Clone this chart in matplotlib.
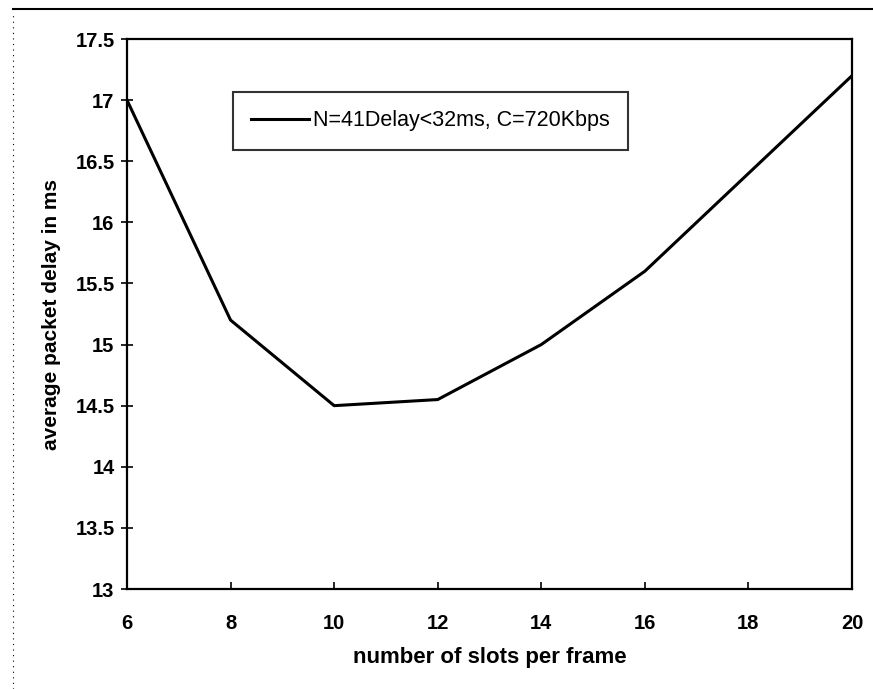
import matplotlib.pyplot as plt
import matplotlib as mpl
from matplotlib.lines import Line2D

mpl.rcParams['font.family'] = ['Liberation Sans', 'DejaVu Sans']

slots = [6, 8, 10, 12, 14, 16, 18, 20]
delay = [17.0, 15.2, 14.5, 14.55, 15.0, 15.6, 16.4, 17.2]
xticks = [6, 8, 10, 12, 14, 16, 18, 20]
yticks = [13, 13.5, 14, 14.5, 15, 15.5, 16, 16.5, 17, 17.5]
series_label = 'N=41Delay<32ms, C=720Kbps'

W, H = 873, 689
fig = plt.figure(figsize=(W/100, H/100), dpi=100)
ax = fig.add_axes([127/W, 1-589/H, (852-127)/W, (589-39)/H])

ax.plot(slots, delay, color='black', linewidth=2.2)
ax.set_xlim(6, 20)
ax.set_ylim(13, 17.5)
ax.set_xticks(xticks)
ax.set_yticks(yticks)
ax.set_yticklabels([f'{v:g}' for v in yticks])
ax.tick_params(axis='y', direction='inout', length=8, width=1.2, labelsize=14.5, pad=5)
ax.tick_params(axis='x', direction='in', length=5, width=1.2, labelsize=14.5, pad=18)
for lab in ax.get_xticklabels() + ax.get_yticklabels():
    lab.set_fontweight('bold')
for s in ax.spines.values():
    s.set_linewidth(1.6)

ax.set_xlabel('number of slots per frame', fontsize=16, fontweight='bold', labelpad=10)
ax.set_ylabel('average packet delay in ms', fontsize=15, fontweight='bold', labelpad=10)

# legend box drawn as in the original (Excel-style)
leg = ax.legend([Line2D([0], [0], color='black', linewidth=2.2)], [series_label],
                loc='upper left', bbox_to_anchor=(233/W, 1-92/H),
                bbox_transform=fig.transFigure, borderaxespad=0,
                frameon=True, fancybox=False, fontsize=15.5, handlelength=2.7,
                borderpad=0.85, handletextpad=0.15)
leg.get_frame().set_edgecolor('black')
leg.get_frame().set_linewidth(1.5)

# page frame lines
fig.add_artist(Line2D([13/W, 1], [1-9/H, 1-9/H], color='black', linewidth=1.5))
fig.add_artist(Line2D([13/W, 13/W], [0, 1-12/H], color='black', linewidth=0.8,
                      linestyle=(0, (1, 4))))

fig.savefig('out.png', dpi=100)
